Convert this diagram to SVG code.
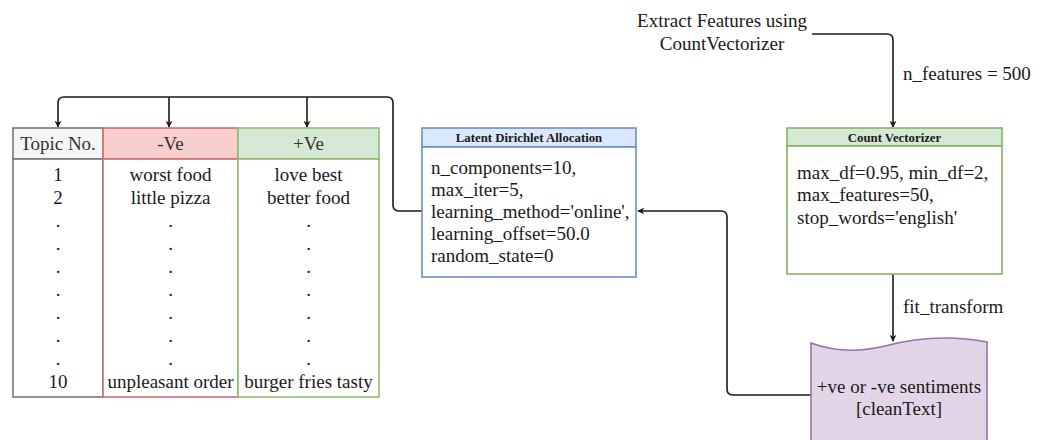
<svg xmlns="http://www.w3.org/2000/svg" width="1047" height="440" viewBox="0 0 1047 440">
<style>
text{font-family:"Liberation Serif","Times New Roman",serif;fill:#1a1a1a}
.t{font-size:19px}
.m{text-anchor:middle}
.h{font-size:12.8px;font-weight:bold;text-anchor:middle}
.c{fill:none;stroke:#1a1a1a;stroke-width:1.6}
</style>
<defs>
<marker id="ar" viewBox="0 0 10 10" refX="9" refY="5" markerWidth="7" markerHeight="7" markerUnits="userSpaceOnUse" orient="auto">
<path d="M0,0 L10,5 L0,10 L3,5 Z" fill="#1a1a1a"/>
</marker>
</defs>
<g id="connectors">
<path class="c" d="M422,211 H399 Q393,211 393,205 V103 Q393,97 387,97 H64 Q58,97 58,103 V127" marker-end="url(#ar)"/>
<path class="c" d="M169,97 V127" marker-end="url(#ar)"/>
<path class="c" d="M307,97 V127" marker-end="url(#ar)"/>
<path class="c" d="M812,34 H887 Q893,34 893,40 V127" marker-end="url(#ar)"/>
<path class="c" d="M893,274 V341" marker-end="url(#ar)"/>
<path class="c" d="M811,395 H733 Q727,395 727,389 V217 Q727,211 721,211 H638" marker-end="url(#ar)"/>
<text class="t" x="903" y="80">n_features = 500</text>
<text class="t" x="903" y="313">fit_transform</text>
</g>
<g id="extract-label">
<text class="t m" x="722" y="27">Extract Features using</text>
<text class="t m" x="722" y="50">CountVectorizer</text>
</g>
<g id="table-topic">
<rect x="13" y="128" width="90" height="31" fill="#f5f5f5" stroke="#777" stroke-width="1.6"/>
<rect x="13" y="159" width="90" height="238" fill="#fff" stroke="#777" stroke-width="1.6"/>
<text class="t m" x="58" y="150" style="fill:#333">Topic No.</text>
<text class="t m" x="58" y="181">1</text>
<text class="t m" x="58" y="204">2</text>
<text class="t m" x="58" y="227">.</text>
<text class="t m" x="58" y="250">.</text>
<text class="t m" x="58" y="273">.</text>
<text class="t m" x="58" y="296">.</text>
<text class="t m" x="58" y="319">.</text>
<text class="t m" x="58" y="342">.</text>
<text class="t m" x="58" y="365">.</text>
<text class="t m" x="58" y="388">10</text>
</g>
<g id="table-neg">
<rect x="103" y="128" width="135" height="31" fill="#f8cecc" stroke="#c9706c" stroke-width="1.6"/>
<rect x="103" y="159" width="135" height="238" fill="#fff" stroke="#c9706c" stroke-width="1.6"/>
<text class="t m" x="170.5" y="150" style="fill:#333">-Ve</text>
<text class="t m" x="170.5" y="181">worst food</text>
<text class="t m" x="170.5" y="204">little pizza</text>
<text class="t m" x="170.5" y="227">.</text>
<text class="t m" x="170.5" y="250">.</text>
<text class="t m" x="170.5" y="273">.</text>
<text class="t m" x="170.5" y="296">.</text>
<text class="t m" x="170.5" y="319">.</text>
<text class="t m" x="170.5" y="342">.</text>
<text class="t m" x="170.5" y="365">.</text>
<text class="t m" x="170.5" y="388">unpleasant order</text>
</g>
<g id="table-pos">
<rect x="238" y="128" width="141" height="31" fill="#d5e8d4" stroke="#8fbf74" stroke-width="1.6"/>
<rect x="238" y="159" width="141" height="238" fill="#fff" stroke="#8fbf74" stroke-width="1.6"/>
<text class="t m" x="308.5" y="150" style="fill:#333">+Ve</text>
<text class="t m" x="308.5" y="181">love best</text>
<text class="t m" x="308.5" y="204">better food</text>
<text class="t m" x="308.5" y="227">.</text>
<text class="t m" x="308.5" y="250">.</text>
<text class="t m" x="308.5" y="273">.</text>
<text class="t m" x="308.5" y="296">.</text>
<text class="t m" x="308.5" y="319">.</text>
<text class="t m" x="308.5" y="342">.</text>
<text class="t m" x="308.5" y="365">.</text>
<text class="t m" x="308.5" y="388">burger fries tasty</text>
</g>
<g id="lda">
<rect x="422" y="128" width="214" height="19" fill="#dae8fc" stroke="#6c8ebf" stroke-width="1.6"/>
<rect x="422" y="147" width="214" height="130" fill="#fff" stroke="#6c8ebf" stroke-width="1.6"/>
<text class="h" x="529" y="142">Latent Dirichlet Allocation</text>
<text class="t" x="431" y="174">n_components=10,</text>
<text class="t" x="431" y="196">max_iter=5,</text>
<text class="t" x="431" y="218">learning_method='online',</text>
<text class="t" x="431" y="240">learning_offset=50.0</text>
<text class="t" x="431" y="262">random_state=0</text>
</g>
<g id="count-vectorizer">
<rect x="787" y="128" width="215" height="18" fill="#d5e8d4" stroke="#82b366" stroke-width="1.6"/>
<rect x="787" y="146" width="215" height="128" fill="#fff" stroke="#82b366" stroke-width="1.6"/>
<text class="h" x="894.5" y="142">Count Vectorizer</text>
<text class="t" x="797" y="179">max_df=0.95, min_df=2,</text>
<text class="t" x="797" y="201">max_features=50,</text>
<text class="t" x="797" y="224">stop_words='english'</text>
</g>
<g id="sentiments">
<path d="M811,343 C835,352 860,352 885,346 C915,338 950,335 987,342 V442 H811 Z" fill="#e1d5e7" stroke="#9673a6" stroke-width="1.6"/>
<text class="t m" x="899" y="393">+ve or -ve sentiments</text>
<text class="t m" x="899" y="415">[cleanText]</text>
</g>
</svg>
